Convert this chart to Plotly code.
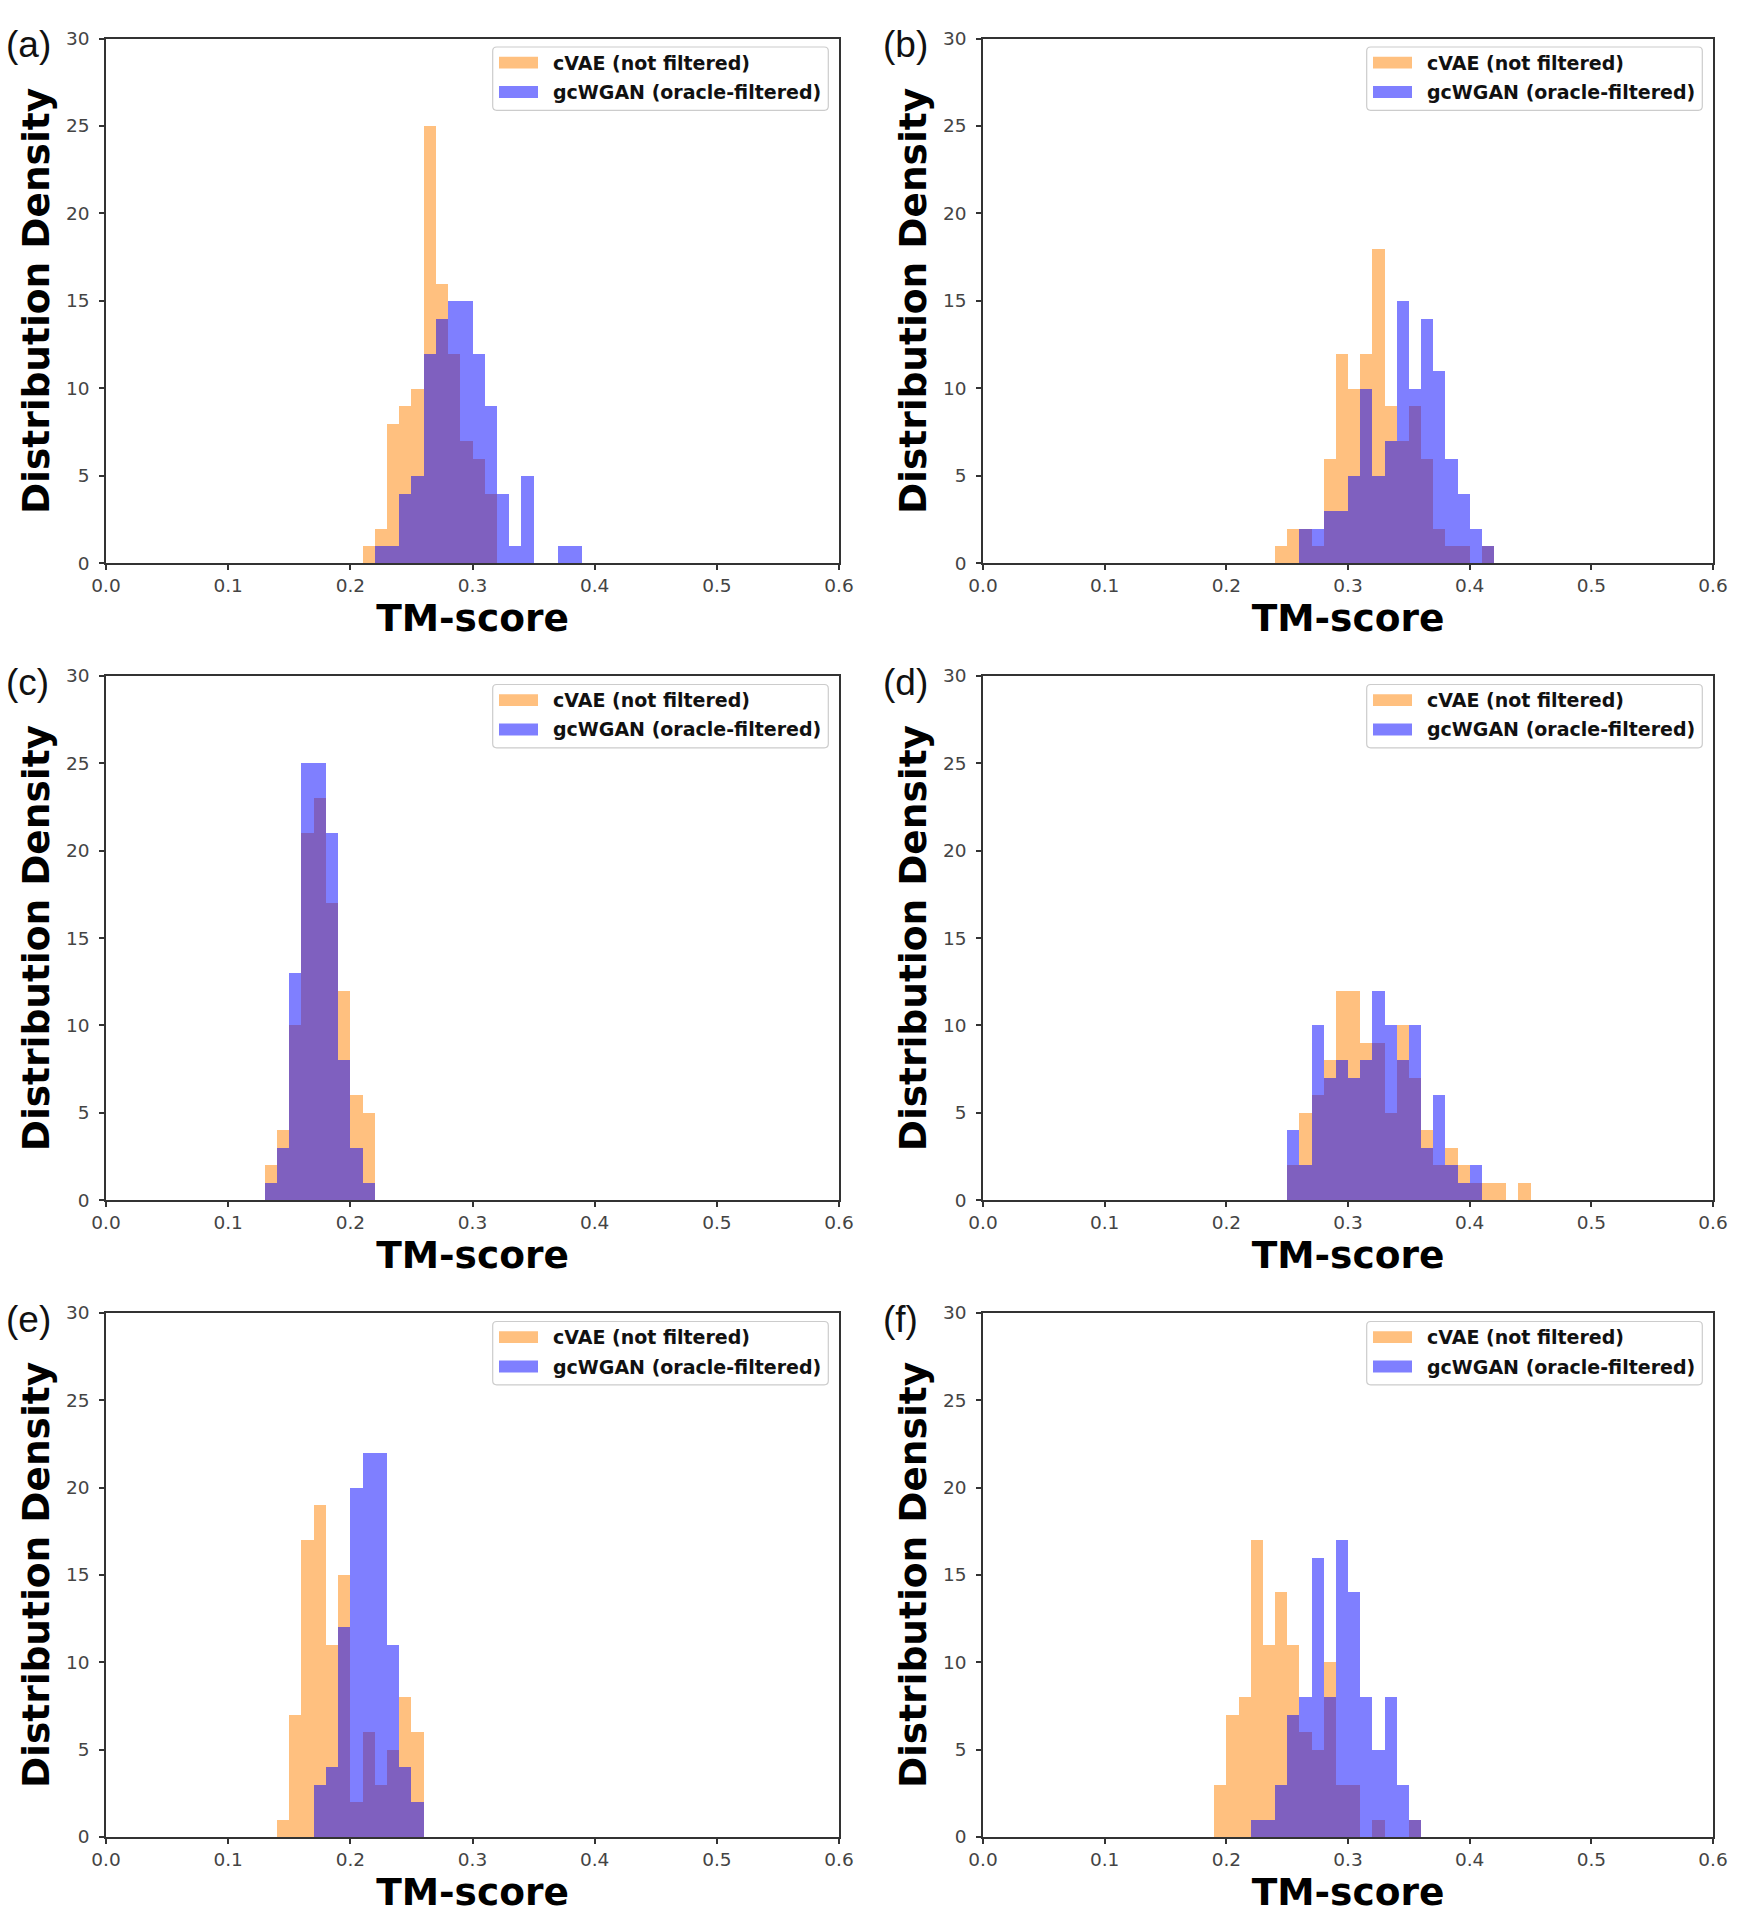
import plotly.graph_objects as go

# ---------------- data (density per 0.01-wide TM-score bin) ----------------
BIN_WIDTH = 0.01
SERIES_NAMES = ["cVAE (not filtered)", "gcWGAN (oracle-filtered)"]
PANEL_LABELS = ["(a)", "(b)", "(c)", "(d)", "(e)", "(f)"]
X_TICKS = [0.0, 0.1, 0.2, 0.3, 0.4, 0.5, 0.6]
Y_TICKS = [0, 5, 10, 15, 20, 25, 30]

a_cvae_start = 0.21
a_cvae = [1, 2, 8, 9, 10, 25, 16, 12, 7, 6, 4]
a_gcwgan_start = 0.22
a_gcwgan = [1, 1, 4, 5, 12, 14, 15, 15, 12, 9, 4, 1, 5, 0, 0, 1, 1]

b_cvae_start = 0.24
b_cvae = [1, 2, 2, 1, 6, 12, 10, 12, 18, 9, 7, 9, 6, 2, 1, 1, 0, 1]
b_gcwgan_start = 0.26
b_gcwgan = [2, 2, 3, 3, 5, 10, 5, 7, 15, 10, 14, 11, 6, 4, 2, 1]

c_cvae_start = 0.13
c_cvae = [2, 4, 10, 21, 23, 17, 12, 6, 5]
c_gcwgan_start = 0.13
c_gcwgan = [1, 3, 13, 25, 25, 21, 8, 3, 1]

d_cvae_start = 0.25
d_cvae = [2, 5, 6, 8, 12, 12, 9, 9, 5, 10, 7, 4, 2, 3, 2, 1, 1, 1, 0, 1]
d_gcwgan_start = 0.25
d_gcwgan = [4, 2, 10, 7, 8, 7, 8, 12, 10, 8, 10, 3, 6, 2, 1, 2]

e_cvae_start = 0.14
e_cvae = [1, 7, 17, 19, 11, 15, 2, 6, 3, 5, 8, 6]
e_gcwgan_start = 0.17
e_gcwgan = [3, 4, 12, 20, 22, 22, 11, 4, 2]

f_cvae_start = 0.19
f_cvae = [3, 7, 8, 17, 11, 14, 11, 6, 5, 10, 3, 3, 0, 1, 0, 0, 1]
f_gcwgan_start = 0.22
f_gcwgan = [1, 1, 3, 7, 8, 16, 8, 17, 14, 8, 5, 8, 3, 1]

panels = [
    (a_cvae_start, a_cvae, a_gcwgan_start, a_gcwgan),
    (b_cvae_start, b_cvae, b_gcwgan_start, b_gcwgan),
    (c_cvae_start, c_cvae, c_gcwgan_start, c_gcwgan),
    (d_cvae_start, d_cvae, d_gcwgan_start, d_gcwgan),
    (e_cvae_start, e_cvae, e_gcwgan_start, e_gcwgan),
    (f_cvae_start, f_cvae, f_gcwgan_start, f_gcwgan),
]

# ---------------- styling / layout ----------------
W, H = 1739, 1920
ORANGE = "rgba(255,130,0,0.5)"
BLUE = "rgba(0,0,255,0.5)"
AX_COLOR = "#333333"
TICK_FONT = dict(family="DejaVu Sans", size=18.5, color="#444444")
XTITLE_FONT = dict(family="DejaVu Sans", size=37.5, color="#000000", weight="bold")
YTITLE_FONT = dict(family="DejaVu Sans", size=37.5, color="#000000", weight="bold")
LEG_FONT = dict(family="DejaVu Sans", size=19, color="#111111", weight="bold")

# positions in page pixels
COL_X = [(106, 839), (983, 1713)]
ROW_Y = [(38.5, 563.4), (676, 1200.2), (1313, 1837)]


def px_x(v):
    return v / W


def px_y(v):
    return 1 - v / H


fig = go.Figure()
shapes = []
annotations = []

for i, (cs, cv, gs, gv) in enumerate(panels):
    r, c = divmod(i, 2)
    n = i + 1
    sfx = "" if n == 1 else str(n)
    xa, ya = "x" + sfx, "y" + sfx

    fig.add_trace(go.Bar(
        x=[cs + (k + 0.5) * BIN_WIDTH for k in range(len(cv))], y=cv,
        width=BIN_WIDTH, marker=dict(color=ORANGE, line=dict(width=0)),
        name=SERIES_NAMES[0], showlegend=False, xaxis=xa, yaxis=ya))
    fig.add_trace(go.Bar(
        x=[gs + (k + 0.5) * BIN_WIDTH for k in range(len(gv))], y=gv,
        width=BIN_WIDTH, marker=dict(color=BLUE, line=dict(width=0)),
        name=SERIES_NAMES[1], showlegend=False, xaxis=xa, yaxis=ya))

    x0, x1 = COL_X[c]
    y0, y1 = ROW_Y[r]
    common = dict(showline=True, mirror=True, linecolor=AX_COLOR, linewidth=1.5,
                  ticks="outside", ticklen=5, tickwidth=1.5, tickcolor=AX_COLOR,
                  showgrid=False, zeroline=False, tickfont=TICK_FONT, automargin=False)
    fig.update_layout(**{
        "xaxis" + sfx: dict(domain=[px_x(x0), px_x(x1)], anchor=ya, range=[0, 0.6],
                            tickvals=X_TICKS, tickformat=".1f",
                            title=dict(text="TM-score", font=XTITLE_FONT, standoff=6),
                            **common),
        "yaxis" + sfx: dict(domain=[px_y(y1), px_y(y0)], anchor=xa, range=[0, 30],
                            tickvals=Y_TICKS, ticklabelstandoff=6,
                            title=dict(text="Distribution Density", font=YTITLE_FONT, standoff=5),
                            **common),
    })

    # panel label
    annotations.append(dict(
        text=PANEL_LABELS[i], xref="paper", yref="paper",
        x=px_x(x0 - 102), y=px_y(y0 + 6), xanchor="left", yanchor="middle",
        showarrow=False, font=dict(family="Liberation Sans", size=37, color="#111111")))

    # legend box (drawn manually to match the reference's patch shapes)
    bx1 = x1 - 10.7
    bx0 = bx1 - 335.6
    by0 = y0 + 8.5
    by1 = by0 + 63.3
    rad = 4
    path = (f"M{px_x(bx0 + rad)},{px_y(by0)} L{px_x(bx1 - rad)},{px_y(by0)} "
            f"Q{px_x(bx1)},{px_y(by0)} {px_x(bx1)},{px_y(by0 + rad)} "
            f"L{px_x(bx1)},{px_y(by1 - rad)} Q{px_x(bx1)},{px_y(by1)} {px_x(bx1 - rad)},{px_y(by1)} "
            f"L{px_x(bx0 + rad)},{px_y(by1)} Q{px_x(bx0)},{px_y(by1)} {px_x(bx0)},{px_y(by1 - rad)} "
            f"L{px_x(bx0)},{px_y(by0 + rad)} Q{px_x(bx0)},{px_y(by0)} {px_x(bx0 + rad)},{px_y(by0)} Z")
    shapes.append(dict(type="path", xref="paper", yref="paper", path=path,
                       line=dict(color="#cccccc", width=1.2), fillcolor="rgba(255,255,255,0.85)"))
    for j, (col, name) in enumerate(zip([ORANGE, BLUE], SERIES_NAMES)):
        cy = by0 + 15.6 + j * 29.4
        shapes.append(dict(type="rect", xref="paper", yref="paper",
                           x0=px_x(bx0 + 6.3), x1=px_x(bx0 + 45.3),
                           y0=px_y(cy + 5.9), y1=px_y(cy - 5.9),
                           line=dict(width=0), fillcolor=col))
        annotations.append(dict(
            text=name, xref="paper", yref="paper",
            x=px_x(bx0 + 58), y=px_y(cy), xanchor="left", yanchor="middle",
            showarrow=False, font=LEG_FONT))

fig.update_layout(
    width=W, height=H, margin=dict(l=0, r=0, t=0, b=0, autoexpand=False),
    barmode="overlay", bargap=0,
    plot_bgcolor="white", paper_bgcolor="white",
    shapes=shapes, annotations=annotations, showlegend=False,
)

fig.write_html("out.html", config={"displayModeBar": False},
               post_script="document.body.style.margin='0';")
